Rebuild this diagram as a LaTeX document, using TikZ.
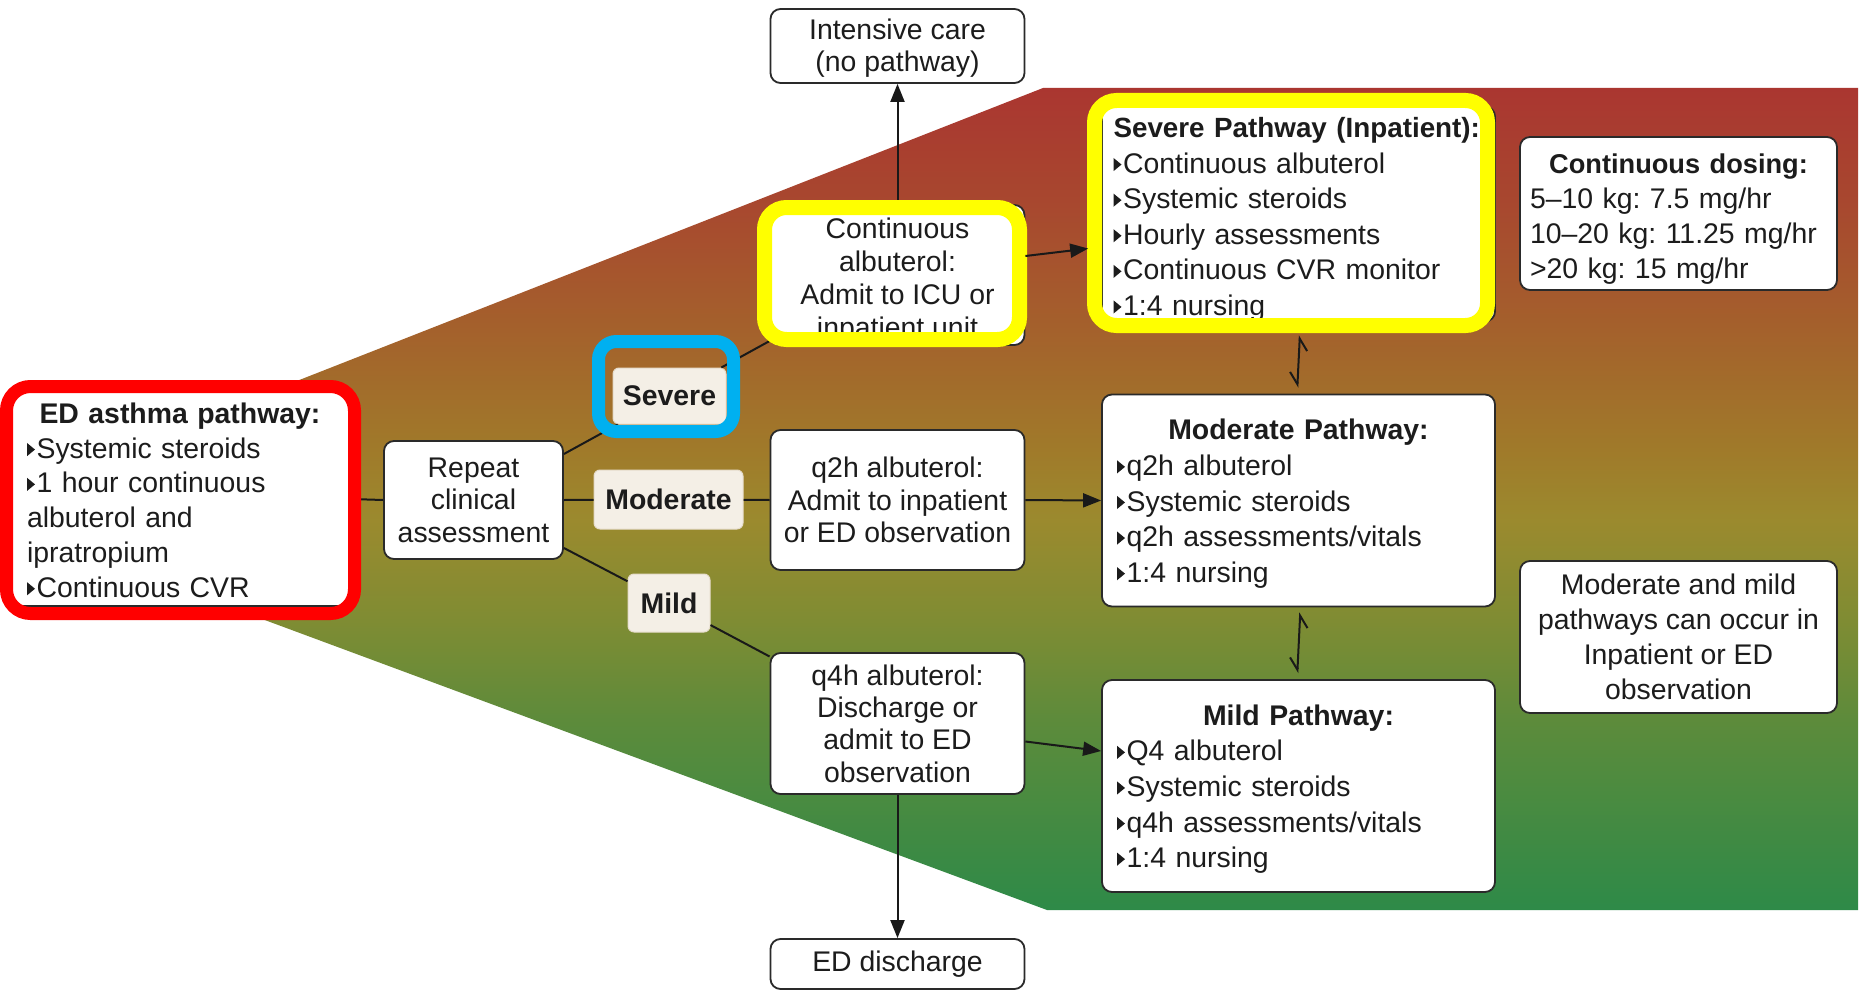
\documentclass[tikz,border=0pt]{standalone}
\usepackage{fontspec}
\setmainfont{Liberation Sans}
\usetikzlibrary{arrows.meta,calc}
\definecolor{txt}{HTML}{1C1C1C}
\definecolor{bd}{HTML}{2A2A2A}
\definecolor{lbl}{HTML}{F4EFE6}
\definecolor{lblbd}{HTML}{E6DCCB}
\definecolor{hred}{HTML}{FF0000}
\definecolor{hyel}{HTML}{FFFF00}
\definecolor{hblu}{HTML}{00B0F0}
\definecolor{r1}{HTML}{AA3630}
\definecolor{r2}{HTML}{A8472F}
\definecolor{b1}{HTML}{A4612C}
\definecolor{o1}{HTML}{A07A2A}
\definecolor{g1}{HTML}{9B8A2E}
\definecolor{g2}{HTML}{7F8C33}
\definecolor{g3}{HTML}{5D8B3B}
\definecolor{g4}{HTML}{2E8A48}
\pgfdeclareverticalshading{wedge}{100bp}{color(0bp)=(g4); color(25bp)=(g4); color(36.6bp)=(g3); color(42.6bp)=(g2); color(48.7bp)=(g1); color(53bp)=(o1); color(60.3bp)=(b1); color(68.2bp)=(r2); color(75bp)=(r1); color(100bp)=(r1)}
\newcommand{\fsA}{\fontsize{14.2pt}{16.2pt}\selectfont\frenchspacing}
\newcommand{\fsB}{\fontsize{14.2pt}{17.4pt}\selectfont\frenchspacing}
\newcommand{\fsC}{\fontsize{14.2pt}{17.8pt}\selectfont\frenchspacing}
\newcommand{\bl}{\tikz[baseline=0pt, sharp corners]\fill[txt] (0pt,1pt) -- (0pt,7.6pt) -- (4pt,4.3pt) -- cycle;\hspace{0.8pt}}
\begin{document}
\begin{tikzpicture}[x=0.5pt,y=-0.5pt,
  box/.style={draw=bd, line width=0.9pt, fill=white, rounded corners=5pt, inner sep=0pt, text=txt},
  cbox/.style={box, minimum width=127pt, minimum height=70pt, align=center, font=\fsA},
  lbox/.style={box, minimum width=196.5pt, minimum height=106pt, align=left, font=\fsC},
  sbox/.style={box, minimum width=158.5pt, minimum height=76.5pt, font=\fsB},
  lab/.style={fill=lbl, draw=lblbd, line width=0.5pt, rounded corners=3pt, inner sep=0pt, font=\fsA\bfseries, text=txt},
  conn/.style={draw=black!90, line width=1pt},
  arr/.style={conn, -{Triangle[length=9pt,width=7pt]}},
  harp/.style={conn, {Straight Barb[harpoon,swap,length=6pt,width=8pt]}-{Straight Barb[harpoon,swap,length=6pt,width=8pt]}},
  hl/.style={line width=7pt, rounded corners=11pt}]
\fill[white] (0,0) rectangle (1864,990);
\useasboundingbox (0,0) rectangle (1864,990);
\shade[shading=wedge] (200,419) -- (1043,88) -- (1858,88) -- (1858,910) -- (1047,910) -- (200,596) -- cycle;

% main boxes
\node[box, minimum width=170pt, minimum height=107pt, text width=153pt, inner xsep=8.5pt, align=left, font=\fsB] (ed) at (180,499)
  {\makebox[153pt]{\rule{0pt}{11.5pt}\textbf{ED asthma pathway:}}\\\bl Systemic steroids\\\bl 1 hour continuous\\albuterol and\\ipratropium\\\bl Continuous CVR};
\node[box, minimum width=89.5pt, minimum height=59pt, align=center, font=\fsA] (rep) at (473.5,500) {Repeat\\clinical\\assessment};
\node[cbox, minimum height=37pt] (icu) at (897.5,46) {\rule{0pt}{12.5pt}Intensive care\\(no pathway)};
\node[cbox, font=\fontsize{14.2pt}{16.6pt}\selectfont] (cont) at (897.5,275) {\rule{0pt}{15.8pt}Continuous\\albuterol:\\Admit to ICU or\\inpatient unit};
\node[cbox] (q2h) at (897.5,500) {q2h albuterol:\\Admit to inpatient\\or ED observation};
\node[cbox, minimum height=70.5pt] (q4h) at (897.5,723.5) {q4h albuterol:\\Discharge or\\admit to ED\\observation};
\node[cbox, minimum height=25pt] (edd) at (897.5,964) {ED discharge};
\node[lbox, text width=185pt, inner xsep=5.75pt] (sevp) at (1298.5,214)
  {\mbox{\rule{0pt}{15.5pt}\fontsize{13.9pt}{17.8pt}\selectfont\bfseries Severe Pathway (Inpatient):}\\\bl Continuous albuterol\\\bl Systemic steroids\\\bl Hourly assessments\\\bl Continuous CVR monitor\\\bl 1:4 nursing};
\node[lbox, text width=181.5pt, inner xsep=7.5pt] (modp) at (1298.5,500.5)
  {\makebox[181.5pt]{\rule{0pt}{13.5pt}\textbf{Moderate Pathway:}}\\\bl q2h albuterol\\\bl Systemic steroids\\\bl q2h assessments/vitals\\\bl 1:4 nursing};
\node[lbox, text width=181.5pt, inner xsep=7.5pt] (mildp) at (1298.5,786)
  {\makebox[181.5pt]{\rule{0pt}{13.5pt}\textbf{Mild Pathway:}}\\\bl Q4 albuterol\\\bl Systemic steroids\\\bl q4h assessments/vitals\\\bl 1:4 nursing};
\node[sbox, text width=148.5pt, inner xsep=5pt, align=left] (dose) at (1678.5,213.5)
  {\makebox[148.5pt]{\rule{0pt}{15.6pt}\fontsize{13.6pt}{17.4pt}\selectfont\bfseries Continuous dosing:}\\5–10 kg: 7.5 mg/hr\\10–20 kg: 11.25 mg/hr\\>20 kg: 15 mg/hr};
\node[sbox, minimum height=76pt, align=center] (note) at (1678.5,637)
  {Moderate and mild\\pathways can occur in\\Inpatient or ED\\observation};

% severity labels
\node[lab, minimum width=56.5pt, minimum height=28pt] (lsev) at (669.5,396) {Severe};
\node[lab, minimum width=74.5pt, minimum height=29.5pt] (lmod) at (668.5,499.5) {Moderate};
\node[lab, minimum width=41pt, minimum height=29pt] (lmild) at (669,603) {Mild};

% connectors
\draw[conn] (ed.east) -- (rep.west);
\draw[conn] ($(rep.east)+(0,-46)$) -- (lsev);
\draw[conn] (lsev) -- ($(cont.west)+(0,66)$);
\draw[conn] (rep.east) -- (lmod);
\draw[conn] (lmod) -- (q2h.west);
\draw[conn] ($(rep.east)+(0,48)$) -- (lmild);
\draw[conn] (lmild) -- ($(q4h.west)+(0,-67)$);
\draw[arr] (cont.north) -- (icu.south);
\draw[arr] (q2h.east) -- (modp.west);
\draw[arr] ($(q4h.east)+(0,18)$) -- ($(mildp.west)+(0,-35)$);
\draw[arr] (q4h.south) -- (edd.north);
\draw[harp, shorten <=6.5pt, shorten >=3pt] ($(sevp.south)+(2,0)$) -- ($(modp.north)+(-1.5,0)$);
\draw[harp, shorten <=2.5pt, shorten >=3pt] ($(modp.south)+(2,0)$) -- ($(mildp.north)+(-1.5,0)$);

% highlight frames
\draw[hred, hl, line width=6.5pt, rounded corners=12pt] (6.5,386.5) rectangle (354.5,613.5);
\draw[hyel, hl, line width=7.5pt] (764.5,207.5) rectangle (1019.5,339.5);
\draw[hyel, hl, line width=7.5pt] (1094.5,100.5) rectangle (1487.5,325.5);
\draw[hblu, hl, line width=6.5pt, rounded corners=9pt] (598.5,341.5) rectangle (733.5,431.5);
\draw[arr, shorten >=6.5pt] ($(cont.east)+(0,-19)$) -- ($(sevp.west)+(0,33)$);
\end{tikzpicture}
\end{document}
